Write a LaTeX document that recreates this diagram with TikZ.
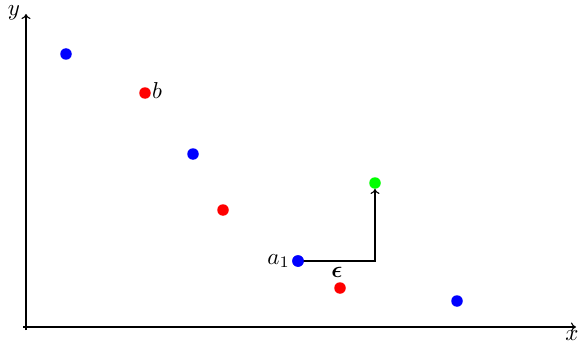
\documentclass[tikz,border=0pt]{standalone}
\usepackage{bm}
\usetikzlibrary{arrows.meta}
\begin{document}
\begin{tikzpicture}[x=1pt,y=-1pt,
  dot/.style={circle,fill=#1,inner sep=0pt,minimum size=11.5pt},
  lbl/.style={inner sep=1pt},
  axis/.style={-{To[length=5pt,width=9pt]},line width=1.1pt},
  conn/.style={-{To[length=5pt,width=9pt]},line width=1.1pt}]
\useasboundingbox (0,0) rectangle (581,345);
\coordinate (xs) at (23,327);
\coordinate (xe) at (576,327);
\coordinate (ys) at (26,330);
\coordinate (ye) at (26,14);
\draw[axis] (xs) -- (xe);
\draw[axis] (ys) -- (ye);
\node[lbl] (xl) at (572,336) {\scalebox{2.3}{$x$}};
\node[lbl] (yl) at (14,13) {\scalebox{2.3}{$y$}};
\node[dot=blue] (p1) at (66,54) {};
\node[dot=red] (b) at (145,93) {};
\node[dot=blue] (p2) at (193,154) {};
\node[dot=red] (r2) at (223,210) {};
\node[dot=blue] (a1) at (298,261) {};
\node[dot=red] (r3) at (340,288) {};
\node[dot=blue] (p4) at (457,301) {};
\coordinate (c) at (375,261);
\node[dot=green] (g) at (375,183) {};
\draw[conn] (a1.center) -- (c) -- (g.south);
\node[dot=blue] at (a1) {};
\node[lbl,anchor=east] (a1l) at ([xshift=-1pt]a1.west) {\scalebox{2.3}{$a_1$}};
\node[lbl,anchor=west] (bl) at ([yshift=2pt]b.east) {\scalebox{2.3}{$b$}};
\node[lbl] (eps) at (337,272) {\scalebox{2.3}{$\bm{\epsilon}$}};
\end{tikzpicture}
\end{document}
